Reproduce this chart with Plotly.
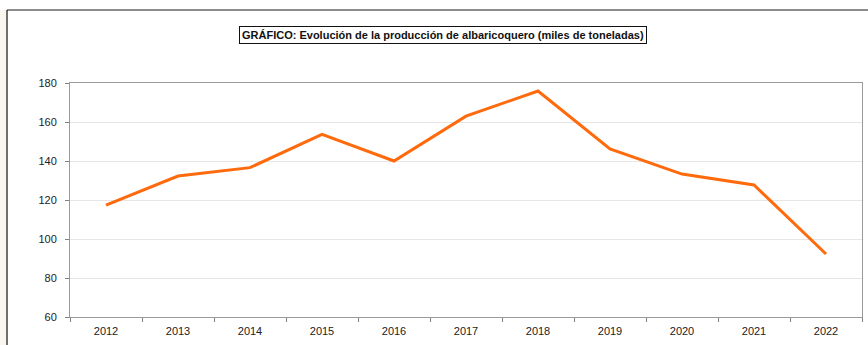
import plotly.graph_objects as go

# Producción de albaricoquero (miles de toneladas)
years = ["2012", "2013", "2014", "2015", "2016", "2017",
         "2018", "2019", "2020", "2021", "2022"]
production = [117.4, 132.3, 136.6, 153.7, 140.0, 163.0,
              175.9, 146.2, 133.3, 127.7, 92.3]
y_ticks = [60, 80, 100, 120, 140, 160, 180]

W, H = 868, 345
L, R, T, B = 70, 6, 83, 28
plot_w = W - L - R
plot_h = H - T - B


def px_x(px):
    return (px - L) / plot_w


def px_y(py):
    return (H - B - py) / plot_h


fig = go.Figure()
fig.add_trace(go.Scatter(
    x=years, y=production, mode="lines",
    line=dict(color="#FF6A0D", width=3),
    hoverinfo="x+y", showlegend=False,
))

axis_font = dict(family="Liberation Sans, Arial, sans-serif", size=11, color="#222222")

fig.update_layout(
    width=W, height=H,
    margin=dict(l=L, r=R, t=T, b=B, pad=0),
    paper_bgcolor="white", plot_bgcolor="white",
    xaxis=dict(
        type="category", range=[-0.5, len(years) - 0.5],
        tickson="boundaries", ticks="outside", ticklen=4,
        tickcolor="#808080", showgrid=False, showline=True, linecolor="#9a9a9a",
        linewidth=1, mirror=True, tickfont=axis_font, zeroline=False,
        ticklabelstandoff=4,
    ),
    yaxis=dict(
        range=[60, 180], tickvals=y_ticks, ticks="outside", ticklen=4,
        tickcolor="#808080", showgrid=True, gridcolor="#e6e6e6", gridwidth=1,
        showline=True, linecolor="#9a9a9a", linewidth=1, mirror=True,
        tickfont=axis_font, zeroline=False, ticklabelstandoff=6,
    ),
    shapes=[
        # beige margin strip on the left
        dict(type="rect", xref="paper", yref="paper",
             x0=px_x(0), x1=px_x(7), y0=px_y(H), y1=px_y(10),
             fillcolor="#fbf7ef", line=dict(width=0), layer="below"),
        # frame: top and left edges
        dict(type="line", xref="paper", yref="paper",
             x0=px_x(7), x1=px_x(W), y0=px_y(10), y1=px_y(10),
             line=dict(color="#8c8c8c", width=2)),
        dict(type="line", xref="paper", yref="paper",
             x0=px_x(7), x1=px_x(7), y0=px_y(10), y1=px_y(H),
             line=dict(color="#111111", width=1.2)),
    ],
    annotations=[
        dict(
            text="<b>GRÁFICO: Evolución de la producción de albaricoquero (miles de toneladas)</b>",
            xref="paper", yref="paper", x=px_x(442.5), y=px_y(35),
            xanchor="center", yanchor="middle", showarrow=False,
            font=dict(family="Liberation Sans, Arial, sans-serif", size=11, color="#111111"),
            bordercolor="#111111", borderwidth=1, borderpad=2, bgcolor="white",
        )
    ],
)

fig.write_html("out.html")
